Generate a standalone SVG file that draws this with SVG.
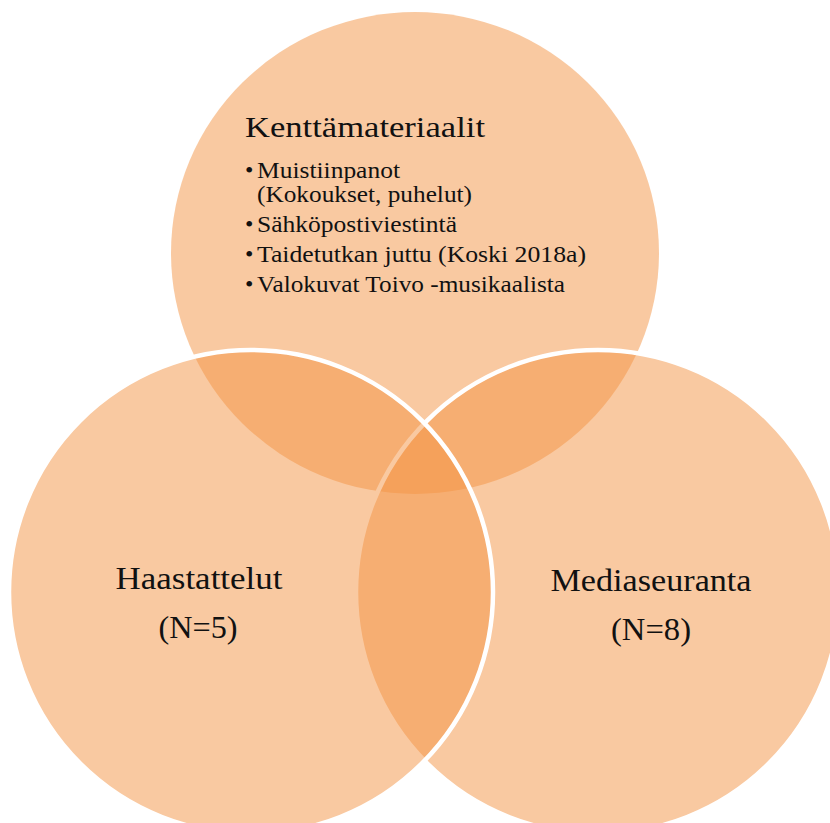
<svg xmlns="http://www.w3.org/2000/svg" width="830" height="823" viewBox="0 0 830 823">
  <style>
    .set { fill: #F39343; fill-opacity: 0.5; }
    .edge { stroke: #FFFFFF; stroke-width: 4.5; }
    .title { font-family: "Liberation Serif", "DejaVu Serif", serif; font-size: 30px; fill: #111111; }
    .item { font-family: "Liberation Serif", "DejaVu Serif", serif; font-size: 24px; fill: #111111; }
    .label { font-family: "Liberation Serif", "DejaVu Serif", serif; font-size: 32px; fill: #111111; text-anchor: middle; }
  </style>
  <rect x="0" y="0" width="830" height="823" fill="#FFFFFF"/>
  <g id="connectors"></g>
  <g id="kenttamateriaalit">
    <ellipse class="set" cx="415" cy="253" rx="244" ry="241"/>
    <text class="title" x="245" y="137" textLength="240" lengthAdjust="spacingAndGlyphs">Kenttämateriaalit</text>
    <text class="item" x="245" y="178">•</text>
    <text class="item" x="257" y="178" textLength="143" lengthAdjust="spacingAndGlyphs">Muistiinpanot</text>
    <text class="item" x="257" y="202" textLength="215" lengthAdjust="spacingAndGlyphs">(Kokoukset, puhelut)</text>
    <text class="item" x="245" y="232">•</text>
    <text class="item" x="257" y="232" textLength="200" lengthAdjust="spacingAndGlyphs">Sähköpostiviestintä</text>
    <text class="item" x="245" y="262">•</text>
    <text class="item" x="257" y="262" textLength="329" lengthAdjust="spacingAndGlyphs">Taidetutkan juttu (Koski 2018a)</text>
    <text class="item" x="245" y="292">•</text>
    <text class="item" x="257" y="292" textLength="308" lengthAdjust="spacingAndGlyphs">Valokuvat Toivo -musikaalista</text>
  </g>
  <g id="mediaseuranta">
    <circle class="set edge" cx="598" cy="592" r="242"/>
  </g>
  <g id="haastattelut">
    <circle class="set edge" cx="251" cy="592" r="242"/>
    <text class="label" x="199" y="589" textLength="167" lengthAdjust="spacingAndGlyphs">Haastattelut</text>
    <text class="label" x="198" y="638" textLength="79" lengthAdjust="spacingAndGlyphs">(N=5)</text>
  </g>
  <g id="mediaseuranta-label">
    <text class="label" x="651" y="591" textLength="201" lengthAdjust="spacingAndGlyphs">Mediaseuranta</text>
    <text class="label" x="651" y="640" textLength="80" lengthAdjust="spacingAndGlyphs">(N=8)</text>
  </g>
</svg>
